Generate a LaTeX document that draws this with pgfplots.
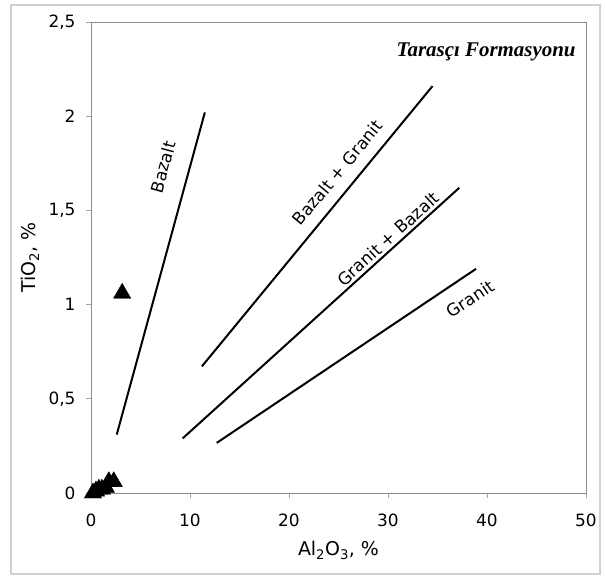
\documentclass[border=0pt]{standalone}
\usepackage{fontspec}
\usepackage{pgfplots}
\pgfplotsset{compat=1.18}
\setmainfont{DejaVu Sans}
\newfontfamily\titlefont{Liberation Serif}
\begin{document}
\begin{tikzpicture}
\path[use as bounding box] (-91bp,-84bp) rectangle (514bp,493bp);
\draw[black!18, line width=1.5bp] (-80bp,-81bp) rectangle (509bp,488bp);
\begin{axis}[
  at={(0,0)}, anchor=south west,
  scale only axis, width=495bp, height=471bp,
  xmin=0, xmax=50, ymin=0, ymax=2.5,
  xtick={0,10,20,30,40,50}, ytick={0,0.5,1,1.5,2,2.5},
  xtick pos=left, ytick pos=left,
  tick align=outside, major tick length=5bp,
  tick style={black!35, line width=0.8bp},
  axis line style={black!45, line width=0.9bp},
  clip=false,
  /pgf/number format/assume math mode=true,
  /pgf/number format/.cd, fixed, use comma, precision=1, /pgfplots/.cd,
  tick label style={font=\fontsize{17}{19}\selectfont},
  xticklabel style={yshift=-12bp},
  yticklabel style={xshift=-7bp},
  xlabel={Al\textsubscript{2}O\textsubscript{3}, \%},
  ylabel={TiO\textsubscript{2}, \%},
  label style={font=\fontsize{19}{22}\selectfont},
  xlabel style={at={(axis description cs:0.5,-0.121)}, anchor=center},
  ylabel style={at={(axis description cs:-0.1232,0.5)}, anchor=center},
]
\addplot[black, line width=2bp] coordinates {(2.6,0.31) (11.5,2.02)};
\addplot[black, line width=2bp] coordinates {(11.2,0.672) (34.5,2.16)};
\addplot[black, line width=2bp] coordinates {(9.26,0.29) (37.2,1.62)};
\addplot[black, line width=2bp] coordinates {(12.7,0.266) (38.9,1.19)};
\addplot[only marks, mark=triangle*, mark size=10bp, black] coordinates {
 (3.15,1.06) (0.2,0.0) (0.5,0.01) (0.8,0.02) (1.1,0.02) (1.5,0.03) (1.8,0.06) (2.3,0.06)};
\node[rotate=74.7, font=\fontsize{17}{20}\selectfont] at (axis cs:7.27,1.73) {Bazalt};
\node[rotate=50.5, font=\fontsize{17}{20}\selectfont] at (axis cs:24.9,1.70) {Bazalt + Granit};
\node[rotate=42.2, font=\fontsize{17}{20}\selectfont] at (axis cs:30.0,1.35) {Granit + Bazalt};
\node[rotate=33.7, font=\fontsize{17}{20}\selectfont] at (axis cs:38.3,1.03) {Granit};
\node[anchor=east, font=\titlefont\bfseries\itshape\fontsize{21}{24}\selectfont] at (axis cs:49.3,2.34) {Tarasçı Formasyonu};
\end{axis}
\end{tikzpicture}
\end{document}
